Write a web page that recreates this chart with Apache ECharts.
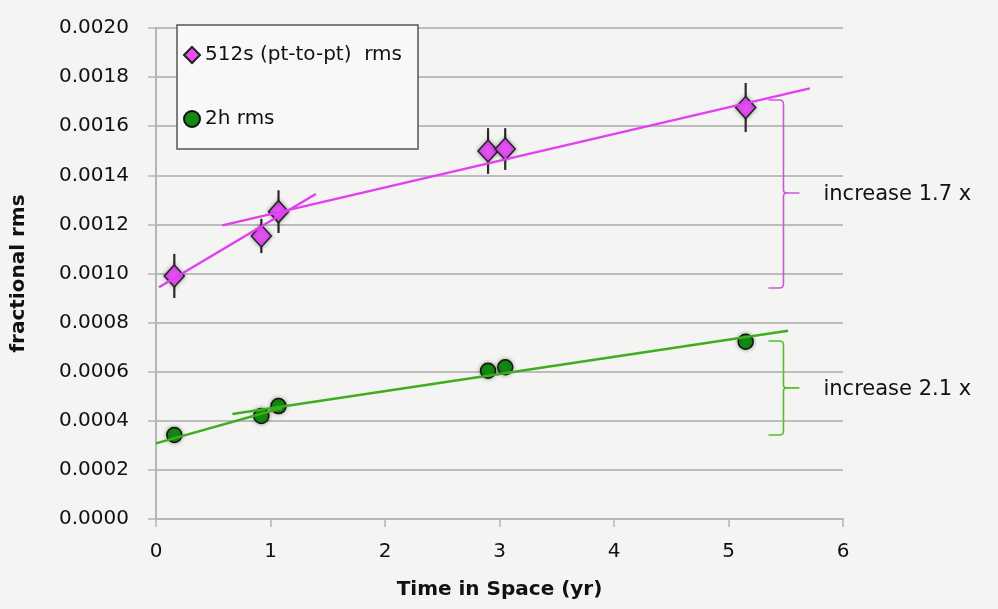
<!DOCTYPE html>
<html>
<head>
<meta charset="utf-8">
<script src="https://cdn.jsdelivr.net/npm/echarts@6/dist/echarts.min.js"></script>
<style>
  html, body { margin: 0; padding: 0; background: #f4f4f2; }
  #chart { width: 998px; height: 609px; }
</style>
</head>
<body>
<div id="chart"></div>
<script>
'use strict';
// time in space (yr) for each measurement
var years = [0.16, 0.92, 1.07, 2.9, 3.05, 5.15];
// 512s point-to-point rms and its error
var rms512 = [0.00099, 0.001153, 0.001252, 0.001499, 0.001507, 0.001676];
var err512 = [0.00009, 0.00007, 0.000087, 0.000093, 0.000085, 0.0001];
// 2h rms and its error
var rms2h = [0.000342, 0.00042, 0.00046, 0.000604, 0.000618, 0.000722];
var err2h = [0.000012, 0.000012, 0.000012, 0.000012, 0.000012, 0.000012];

// trend lines, [x, y] end points
var fit512a = [[0.026, 0.000944], [1.396, 0.001324]];
var fit512b = [[0.58, 0.001196], [5.71, 0.001754]];
var fit2ha = [[0, 0.000308], [1.10, 0.000452]];
var fit2hb = [[0.667, 0.000428], [5.52, 0.000767]];

// braces on the right
var braceX = 5.48;
var braceTop = [0.001707, 0.000725];
var braceBottom = [0.000941, 0.000342];
var braceTip = [0.001328, 0.000534];
var braceLabels = ['increase 1.7 x', 'increase 2.1 x'];

var xTicks = [0, 1, 2, 3, 4, 5, 6];

var FONT = '"DejaVu Sans", sans-serif';
var MAGENTA = '#e550f5';
var MAGENTA_LINE = '#e040f0';
var GREEN = '#138a13';
var GREEN_LINE = '#3fae1c';
var braceColors = ['#c95ad8', '#55bb33'];

var myChart = echarts.init(document.getElementById('chart'));

function pairs(xs, ys) {
	return xs.map(function (x, i) { return [x, ys[i]]; });
}
function errData(ys, es) {
	return years.map(function (x, i) { return [x, ys[i] - es[i], ys[i] + es[i]]; });
}

function renderErr(params, api) {
	var lo = api.coord([api.value(0), api.value(1)]);
	var hi = api.coord([api.value(0), api.value(2)]);
	return {
		type: 'line',
		shape: { x1: lo[0], y1: lo[1], x2: hi[0], y2: hi[1] },
		style: { stroke: '#2a2a2a', lineWidth: 2.2 }
	};
}

function renderBrace(params, api) {
	var i = params.dataIndex;
	var t = api.coord([api.value(0), api.value(1)]);
	var b = api.coord([api.value(0), api.value(2)]);
	var m = api.coord([api.value(0), api.value(3)]);
	var x = t[0];
	var p = 'M' + (x - 15) + ' ' + t[1] + ' L' + (x - 4) + ' ' + t[1] +
		' Q' + x + ' ' + t[1] + ' ' + x + ' ' + (t[1] + 4) +
		' L' + x + ' ' + (m[1] - 3) + ' Q' + x + ' ' + m[1] + ' ' + (x + 4) + ' ' + m[1] +
		' L' + (x + 16) + ' ' + m[1] +
		' M' + (x + 4) + ' ' + m[1] + ' Q' + x + ' ' + m[1] + ' ' + x + ' ' + (m[1] + 3) +
		' L' + x + ' ' + (b[1] - 4) + ' Q' + x + ' ' + b[1] + ' ' + (x - 4) + ' ' + b[1] +
		' L' + (x - 15) + ' ' + b[1];
	return {
		type: 'group',
		children: [{
			type: 'path',
			shape: { pathData: p },
			style: { stroke: braceColors[i], lineWidth: 1.6, fill: null }
		}, {
			type: 'text',
			x: x + 40,
			y: m[1] + 2,
			style: {
				text: braceLabels[i],
				fill: '#111',
				font: '21px ' + FONT,
				verticalAlign: 'middle'
			}
		}]
	};
}

function fitLine(data, color) {
	return {
		type: 'line',
		data: data,
		symbol: 'none',
		z: 4,
		lineStyle: { color: color, width: 2.5 },
		silent: true
	};
}

var option = {
	backgroundColor: '#f4f4f2',
	animation: false,
	grid: { left: 156, right: 155, top: 28, bottom: 90 },
	legend: {
		data: ['512s (pt-to-pt)  rms', '2h rms'],
		orient: 'vertical',
		left: 177,
		top: 25,
		padding: [20, 16, 20, 6],
		itemGap: 44,
		itemWidth: 16,
		itemHeight: 16,
		backgroundColor: '#f8f8f8',
		borderColor: '#555',
		borderWidth: 1.5,
		textStyle: { fontFamily: FONT, fontSize: 20, color: '#111' }
	},
	xAxis: {
		type: 'value',
		min: 0,
		max: 6,
		interval: 1,
		name: 'Time in Space (yr)',
		nameLocation: 'middle',
		nameGap: 61,
		nameTextStyle: { fontFamily: FONT, fontSize: 20, fontWeight: 'bold', color: '#111' },
		axisLine: { show: true, lineStyle: { color: '#b5b5b5', width: 2 } },
		axisTick: { show: true, length: 8, lineStyle: { color: '#b5b5b5', width: 1.5 } },
		axisLabel: {
			margin: 23, fontFamily: FONT, fontSize: 20, color: '#111',
			formatter: function (v) { return xTicks.indexOf(v) >= 0 ? String(v) : ''; }
		},
		splitLine: { show: false }
	},
	yAxis: {
		type: 'value',
		min: 0,
		max: 0.002,
		interval: 0.0002,
		name: 'fractional rms',
		nameLocation: 'middle',
		nameGap: 127,
		nameTextStyle: { fontFamily: FONT, fontSize: 20, fontWeight: 'bold', color: '#111' },
		axisLine: { show: true, lineStyle: { color: '#b5b5b5', width: 2 } },
		axisTick: { show: true, length: 8, lineStyle: { color: '#b5b5b5', width: 1.5 } },
		axisLabel: {
			margin: 27, fontFamily: FONT, fontSize: 20, color: '#111',
			formatter: function (v) { return v.toFixed(4); }
		},
		splitLine: { show: true, lineStyle: { color: '#aaaaaa', width: 1.5 } }
	},
	series: [
		{
			type: 'custom',
			renderItem: renderErr,
			data: errData(rms512, err512),
			z: 1,
			silent: true
		},
		{
			type: 'custom',
			renderItem: renderErr,
			data: errData(rms2h, err2h),
			z: 1,
			silent: true
		},
		{
			name: '512s (pt-to-pt)  rms',
			type: 'scatter',
			data: pairs(years, rms512),
			symbol: 'diamond',
			symbolSize: [20, 22],
			z: 3,
			itemStyle: {
				color: MAGENTA, borderColor: '#222', borderWidth: 1.5,
				shadowBlur: 4, shadowColor: 'rgba(0,0,0,0.35)', opacity: 1
			}
		},
		{
			name: '2h rms',
			type: 'scatter',
			data: pairs(years, rms2h),
			symbol: 'circle',
			symbolSize: 15,
			z: 3,
			itemStyle: {
				color: GREEN, borderColor: '#111', borderWidth: 1.5,
				shadowBlur: 4, shadowColor: 'rgba(0,0,0,0.35)', opacity: 1
			}
		},
		fitLine(fit512a, MAGENTA_LINE),
		fitLine(fit512b, MAGENTA_LINE),
		fitLine(fit2ha, GREEN_LINE),
		fitLine(fit2hb, GREEN_LINE),
		{
			type: 'custom',
			renderItem: renderBrace,
			data: braceTop.map(function (t, i) { return [braceX, t, braceBottom[i], braceTip[i]]; }),
			z: 2,
			silent: true
		}
	]
};
myChart.setOption(option);
</script>
</body>
</html>
